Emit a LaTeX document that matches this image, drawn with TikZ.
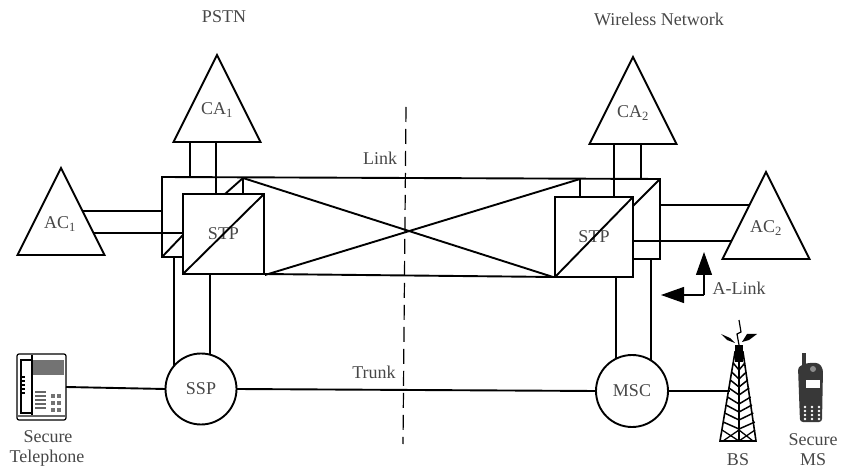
\documentclass[tikz,border=0pt]{standalone}
\usepackage{fontspec}
\setmainfont{Liberation Serif}
\usepackage{xcolor}
\usetikzlibrary{arrows.meta,positioning,shapes.geometric,backgrounds}
\definecolor{inkgray}{gray}{0.28}
\definecolor{bodygray}{gray}{0.22}

\begin{document}
\begin{tikzpicture}[x=1pt, y=-1pt,
    every path/.style={line width=1.9pt},
    every node/.style={font=\fontsize{18}{20}\selectfont, text=inkgray},
    nettri/.style={draw, fill=white, isosceles triangle, isosceles triangle stretches,
      shape border rotate=90, minimum width=87pt, minimum height=87pt,
      inner sep=0pt, outer sep=0pt, anchor=apex},
    stpbox/.style={draw, minimum height=80pt, inner sep=0pt, outer sep=0pt},
    swnode/.style={draw, fill=white, circle, inner sep=0pt, outer sep=0pt},
    thinlink/.style={line width=1.2pt},
    tip/.style={-{Triangle[length=23pt,width=16pt]}, thinlink}]
  \useasboundingbox (0,0) rectangle (841,470);
  % ---- titles ----
  \node (pstn) at (224,17) {PSTN};
  \node (wireless) at (659,19) {Wireless Network};
  % ---- triangles ----
  \node[nettri] (caone) at (217,55) {};
  \node[nettri] (catwo) at (633,57) {};
  \node[nettri] (acone) at (61,168) {};
  \node[nettri] (actwo) at (766,172) {};
  \node (caonetxt) at (217,110) {CA\textsubscript{1}};
  \node (catwotxt) at (633,113) {CA\textsubscript{2}};
  \node (aconetxt) at (60,224) {AC\textsubscript{1}};
  \node (actwotxt) at (766,228) {AC\textsubscript{2}};
  % ---- signal transfer points ----
  \node[stpbox, minimum width=81pt] (stpone) at (223.5,234) {STP};
  \node[stpbox, minimum width=78pt] (stptwo) at (594,237) {STP};
  % ---- switches ----
  \node[swnode, minimum size=71pt] (ssp) at (201,389) {SSP};
  \node[swnode, minimum size=72pt] (msc) at (632,391) {MSC};
  % ---- corners of the two frames ----
  \coordinate (ftl) at (162,177);
  \coordinate (fbl) at (162,257);
  \coordinate (ftr) at (660,179);
  \coordinate (fbr) at (660,259);
  \coordinate (xa) at (243,178);
  \coordinate (xb) at (580,179);
  \coordinate (xc) at (265,275);
  \coordinate (xd) at (553,277);
  % feet of the parallel links
  \coordinate (lka) at (190,177);
  \coordinate (lkb) at (216,178);
  \coordinate (lkc) at (614,179);
  \coordinate (lkd) at (641,179);
  \coordinate (lke) at (162,211);
  \coordinate (lkf) at (162,233);
  \coordinate (lkg) at (660,205);
  \coordinate (lkh) at (660,241);
  \coordinate (lki) at (174,257);
  \coordinate (lkj) at (210,274);
  \coordinate (lkk) at (651,259);
  \coordinate (lkl) at (616,277);
  \begin{pgfonlayer}{background}
    % frames behind the STPs
    \draw (stpone.west |- fbl) -- (fbl) -- (ftl) -- (ftr) -- (fbr) -- (stptwo.east |- fbr);
    \draw (stpone.south east) -- (stptwo.south west);
    % crossing links
    \draw (xa) -- (xd);
    \draw (xb) -- (xc);
    \draw (xa) -- (xa |- stpone.north);
    \draw (xb) -- (xb |- stptwo.north);
    \draw (xa) -- ([xshift=-18pt]xa |- stpone.north);
    \draw (ftr) -- (stptwo.north east |- 0,206);
    \draw (fbl) -- (stpone.west |- 0,235);
    % links up to the CAs
    \draw (lka) -- (lka |- caone.center);
    \draw (lkb |- stpone.north) -- (lkb |- caone.center);
    \draw (lkc |- stptwo.north) -- (lkc |- catwo.center);
    \draw (lkd) -- (lkd |- catwo.center);
    % links out to the ACs
    \draw (lke) -- (lke -| acone.center);
    \draw (lkf -| stpone.west) -- (lkf -| acone.center);
    \draw (lkg) -- (lkg -| actwo.center);
    \draw (lkh -| stptwo.east) -- (lkh -| actwo.center);
    % links down to the switches
    \draw (lki) -- (lki |- ssp.center);
    \draw (lkj) -- (lkj |- ssp.center);
    \draw (lkk) -- (lkk |- msc.center);
    \draw (lkl) -- (lkl |- msc.center);
  \end{pgfonlayer}
  \draw (stpone.south west) -- (stpone.north east);
  \draw (stptwo.south west) -- (stptwo.north east);
  % ---- dashed divider ----
  \coordinate (dashtop) at (406,107);
  \coordinate (dashbot) at (403,444);
  \draw[thinlink, dash pattern=on 15pt off 7pt] (dashtop) -- (dashbot);
  \node (linktxt) at (380,158) {Link};
  \node (trunktxt) at (374,372) {Trunk};
  % ---- A-Link marker ----
  \coordinate (alinkc) at (704,295);
  \coordinate (alinkup) at (704,252);
  \coordinate (alinkleft) at (661,295);
  \draw[tip] (alinkc) -- (alinkup);
  \draw[tip] (alinkc) -- (alinkleft);
  \node (alinktxt) at (739,288) {A-Link};
  % ---- secure telephone ----
  \node[draw, thinlink, rounded corners=2pt, minimum width=49pt, minimum height=66pt,
    inner sep=0pt, outer sep=0pt] (desk) at (41.5,387) {};
  \fill[black!55] (33,360) rectangle (64,375);
  \draw[thinlink] (32,355) -- (32,415);
  \draw[thinlink] (21,360) rectangle (32,413);
  \foreach \y in {377,381,385,389,393}
    \draw[line width=1.4pt] (21,\y) -- (25,\y);
  \foreach \y in {392,396,400,404,408}
    \draw[thinlink, black!60] (35,\y) -- (46,\y);
  \foreach \y in {394,401,408}
    \foreach \x in {51,57}
      \fill[black!55] (\x,\y) rectangle +(4,4);
  \draw[thinlink, black!60] (18,416) -- (65,416);
  \node (sectel) at (48,437) {Secure};
  \node (teltxt) at (47,458) {Telephone};
  % ---- base station tower ----
  \coordinate (bs) at (730,391);
  \draw[line width=1.6pt] (735,352) -- (720,441) -- (756,441) -- (743,352) -- cycle;
  \fill (735,345) rectangle (743,362);
  \draw[line width=1.2pt] (739,350) -- (739,441);
  \foreach \y in {363,372,380,388,397,405,413,422}
    \draw[line width=1.5pt] ({739-4-(\y-352)*0.169},\y) -- (739,\y+7) -- ({739+4+(\y-352)*0.169},\y);
  \draw[line width=1.3pt] (722,430) -- (739,441) -- (755,430);
  \draw[line width=1.3pt] (723,441) -- (739,430) -- (753,441);
  \draw[thinlink] (739,345) -- (737,334) -- (741,332) -- (739,320);
  \fill (721,334) -- (730,338) -- (735,343) -- (727,340) -- cycle;
  \fill (757,334) -- (747,334) -- (742,342) -- (749,340) -- cycle;
  \node (bstxt) at (738,460) {BS};
  % ---- secure mobile ----
  \fill[bodygray, rounded corners=3pt] (798,367) -- (807,363) -- (819,363) -- (823,369)
    -- (822,422) -- (800,422) -- cycle;
  \fill[bodygray] (802,353) rectangle (806,368);
  \fill[white] (806,380) rectangle (820,388);
  \fill[black!45] (813,369) circle (3pt);
  \foreach \y in {407,411,415,419}
    \foreach \x in {805,812,819}
      \fill[white] (\x,\y) circle (1.3pt);
  \node (secms) at (813,440) {Secure};
  \node (mstxt) at (813,460) {MS};
  % ---- trunk line ----
  \draw (desk.east) -- (ssp.west);
  \draw (ssp.east) -- (msc.west);
  \draw (msc.east) -- (bs);
\end{tikzpicture}
\end{document}
